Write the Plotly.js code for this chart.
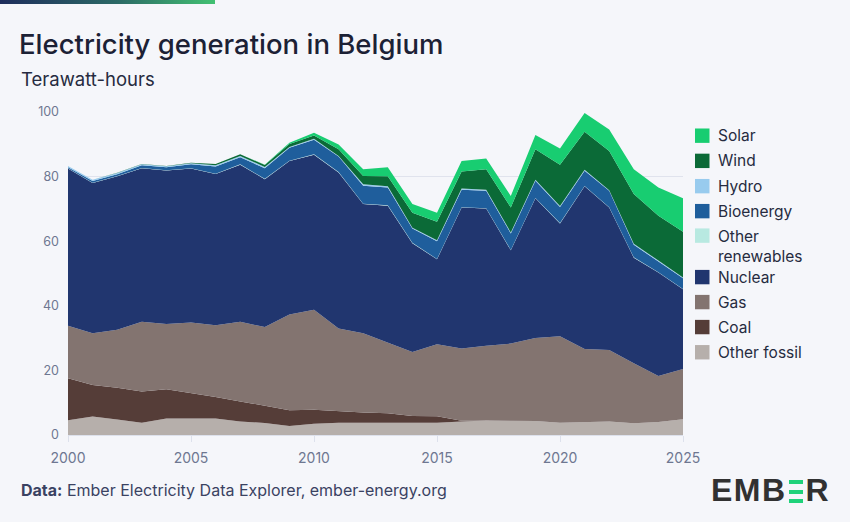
<!DOCTYPE html>
<html>
<head>
<meta charset="utf-8">
<script src="https://cdn.plot.ly/plotly-3.0.1.min.js"></script>
<style>
  html, body { margin: 0; padding: 0; background: #f5f6fa; }
  #chart { width: 850px; height: 522px; }
  #topbar { position: absolute; left: 0; top: 0; width: 215px; height: 4px;
            background: linear-gradient(90deg, #1e2d5c 0%, #2c6a66 55%, #42c172 100%); z-index: 5; }
  #logo { position: absolute; left: 711px; top: 474px; height: 32px; z-index: 5;
          font-family: "Liberation Sans", Arial, sans-serif; font-weight: bold; font-size: 32px;
          color: #313131; letter-spacing: 1.5px; line-height: 32px; white-space: nowrap; }
  #logo .e { display: inline-block; width: 14px; height: 23px; margin: 0 3px 0 2px; position: relative; top: 2px; }
  #logo .e i { display: block; height: 4px; background: #1fd27a; margin-bottom: 5.5px; }
</style>
</head>
<body>
<div id="topbar"></div>
<div id="chart"></div>
<div id="logo">EMB<span class="e"><i></i><i></i><i></i></span>R</div>
<script>
const years = [2000,2001,2002,2003,2004,2005,2006,2007,2008,2009,2010,2011,2012,2013,2014,2015,2016,2017,2018,2019,2020,2021,2022,2023,2024,2025];

const otherFossil     = [4.6,5.7,4.8,3.8,5.1,5.2,5.1,4.2,3.7,2.8,3.5,3.8,3.8,3.8,3.8,3.8,4.2,4.5,4.3,4.3,3.8,3.9,4.2,3.6,4.0,4.9];
const coal            = [13.0,9.8,9.8,9.7,9.1,7.9,6.7,6.2,5.3,4.9,4.3,3.5,3.2,2.9,2.1,2.0,0.2,0,0,0,0,0,0,0,0,0];
const gas             = [16.2,16.0,18.0,21.6,20.2,21.7,22.2,24.7,24.4,29.6,31.0,25.7,24.5,21.9,19.8,22.3,22.4,23.1,24.0,25.7,26.8,22.7,22.1,18.6,14.3,15.5];
const nuclear         = [48.7,46.5,47.5,47.5,47.5,47.7,46.8,48.6,45.8,47.5,48.0,48.3,40.0,42.4,33.7,26.3,43.6,42.5,28.9,43.3,34.9,50.4,44.1,32.7,32.0,24.7];
const otherRenewables = [0.1,0.1,0.1,0.1,0.1,0.1,0.1,0.1,0.1,0.1,0.1,0.1,0.1,0.1,0.1,0.1,0.1,0.1,0.1,0.1,0.1,0.1,0.1,0.1,0.1,0.1];
const bioenergy       = [0.3,0.5,0.5,0.8,0.9,1.2,2.2,2.2,3.3,4.0,4.5,4.8,5.6,5.5,4.4,5.5,5.4,5.4,5.1,5.3,5.0,4.7,5.1,3.9,3.3,3.3];
const hydro           = [0.4,0.4,0.4,0.3,0.3,0.3,0.4,0.4,0.4,0.3,0.3,0.2,0.4,0.4,0.3,0.3,0.4,0.3,0.3,0.3,0.3,0.3,0.2,0.3,0.3,0.3];
const wind            = [0,0,0.1,0.1,0.1,0.2,0.4,0.5,0.6,0.9,1.0,2.1,2.6,3.1,4.6,5.7,5.3,6.4,7.7,9.5,12.8,11.8,12.1,15.4,13.9,14.1];
const solar           = [0,0,0,0,0,0,0,0,0.1,0.4,0.9,1.4,2.1,2.8,2.7,2.8,3.2,3.3,3.6,4.4,5.0,5.8,6.7,7.7,8.7,10.4];

const seriesNames  = ["Other fossil","Coal","Gas","Nuclear","Other renewables","Bioenergy","Hydro","Wind","Solar"];
const seriesValues = [otherFossil, coal, gas, nuclear, otherRenewables, bioenergy, hydro, wind, solar];
const seriesColors = ["#b6afab","#553d38","#837470","#21366f","#b8e9e1","#1f5e9c","#98cbee","#0b6a37","#18cd71"];

const xTicks = [2000,2005,2010,2015,2020,2025];
const yTicks = [0,20,40,60,80,100];

const W = 850, H = 522;
const M = {l: 67.7, r: 167, t: 112.3, b: 86.5};
const PW = W - M.l - M.r, PH = H - M.t - M.b;
const px2x = p => (p - M.l) / PW;
const px2y = p => (H - M.b - p) / PH;

const FONT = "Inter, 'Open Sans', sans-serif";

const traces = seriesNames.map((n, i) => ({
  type: 'scatter', mode: 'lines', name: n,
  x: years, y: seriesValues[i],
  stackgroup: 'one',
  line: {width: 0, color: seriesColors[i]},
  fillcolor: seriesColors[i],
  showlegend: false, hoverinfo: 'skip'
}));

// custom legend (top to bottom)
const legendRowsY = [136, 161.2, 186.5, 211.5, 236, 277.5, 302.5, 327.5, 352.7];
const shapes = [];
const annotations = [];
const legendOrder = seriesNames.slice().reverse();
const legendColors = seriesColors.slice().reverse();
legendOrder.forEach((n, i) => {
  const cy = legendRowsY[i];
  shapes.push({type: 'rect', xref: 'paper', yref: 'paper',
    x0: px2x(695), x1: px2x(709.5), y0: px2y(cy - 7.2), y1: px2y(cy + 7.2),
    fillcolor: legendColors[i], line: {width: 0}});
  const twoLine = n === "Other renewables";
  annotations.push({xref: 'paper', yref: 'paper', x: px2x(716), xanchor: 'left',
    y: twoLine ? px2y(cy - 10.5) : px2y(cy), yanchor: twoLine ? 'top' : 'middle',
    text: twoLine ? "Other<br>renewables" : n, showarrow: false, align: 'left',
    font: {family: FONT, size: 15.5, color: '#262b40'}});
});

annotations.push({xref: 'paper', yref: 'paper', x: px2x(19), xanchor: 'left', y: px2y(79), yanchor: 'middle',
  text: 'Terawatt-hours', showarrow: false, font: {family: FONT, size: 18.5, color: '#262b40'}});
annotations.push({xref: 'paper', yref: 'paper', x: px2x(19), xanchor: 'left', y: px2y(491), yanchor: 'middle',
  text: '<b>Data:</b> Ember Electricity Data Explorer, ember-energy.org', showarrow: false,
  font: {family: FONT, size: 16, color: '#3a4262'}});

const layout = {
  width: W, height: H,
  paper_bgcolor: '#f5f6fa', plot_bgcolor: '#f5f6fa',
  margin: M,
  showlegend: false,
  hovermode: false,
  title: {text: 'Electricity generation in Belgium', x: 19/W, xref: 'container', xanchor: 'left',
          y: 1 - 44/H, yref: 'container', yanchor: 'middle',
          font: {family: FONT, size: 27.5, weight: 500, color: '#1c2135'}},
  xaxis: {range: [2000, 2025], tickvals: xTicks, ticktext: xTicks.map(String),
          showgrid: false, zeroline: false, showline: true, linecolor: '#dde1ec', linewidth: 1,
          ticks: 'outside', ticklen: 6, tickcolor: '#dde1ec', ticklabelstandoff: 4,
          tickfont: {family: FONT, size: 14, color: '#6e7791'}},
  yaxis: {range: [0, 100], tickvals: yTicks, ticktext: yTicks.map(String),
          showgrid: true, gridcolor: '#e0e3ed', gridwidth: 1, zeroline: false, showline: false,
          ticks: '', ticklabelstandoff: 8,
          tickfont: {family: FONT, size: 12.5, color: '#6e7791'}},
  shapes: shapes,
  annotations: annotations
};

Plotly.newPlot('chart', traces, layout, {staticPlot: true, displayModeBar: false});
</script>
</body>
</html>
